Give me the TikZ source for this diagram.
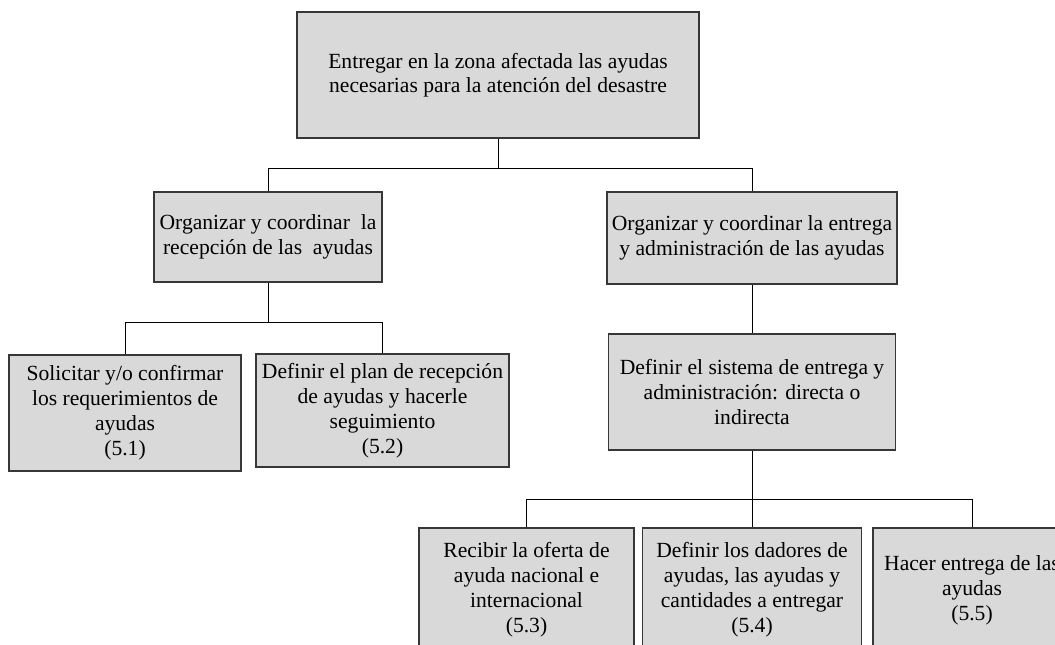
\documentclass[tikz,border=0pt]{standalone}
\usepackage{fontspec}
\setmainfont{Liberation Serif}
\definecolor{boxfill}{RGB}{217,217,217}
\definecolor{boxline}{RGB}{55,55,55}
\begin{document}
\begin{tikzpicture}[x=1pt,y=-1pt,
  box/.style={draw=boxline, fill=boxfill, line width=1.1pt, align=center,
    font=\fontsize{21.6}{25}\selectfont, inner sep=0pt},
  link/.style={draw=black, line width=1pt}]
\useasboundingbox (0,0) rectangle (1055,645);

% level 0
\node[box, minimum width=402pt, minimum height=126pt,
      font=\fontsize{21.6}{23.5}\selectfont] (top) at (498,75)
  {Entregar en la zona afectada las ayudas\\necesarias para la atención del desastre};

% level 1
\node[box, minimum width=228pt, minimum height=90pt] (A) at (268,237)
  {Organizar y coordinar \ la\\recepción de las \ ayudas};
\node[box, minimum width=290pt, minimum height=92pt] (B) at (752,238)
  {Organizar y coordinar la entrega\\y administración de las ayudas};

% level 2
\node[box, minimum width=232pt, minimum height=116pt] (s51) at (125,413)
  {Solicitar y/o confirmar\\los requerimientos de\\ayudas\\(5.1)};
\node[box, minimum width=253pt, minimum height=113pt] (s52) at (382.5,410.5)
  {Definir el plan de recepción\\de ayudas y hacerle\\seguimiento\\(5.2)};
\node[box, minimum width=287pt, minimum height=116pt] (C) at (752,392)
  {Definir el sistema de entrega y\\administración: directa o\\indirecta};

% level 3
\node[box, minimum width=215pt, minimum height=124pt] (s53) at (526.5,590)
  {Recibir la oferta de\\ayuda nacional e\\internacional\\(5.3)};
\node[box, minimum width=219pt, minimum height=124pt] (s54) at (752,590)
  {Definir los dadores de\\ayudas, las ayudas y\\cantidades a entregar\\(5.4)};
\node[box, minimum width=198pt, minimum height=124pt] (s55) at (972,590)
  {Hacer entrega de las\\ayudas\\(5.5)};

% connectors
\draw[link] (top.south) -- ++(0,30) -| (A.north);
\draw[link] (top.south) -- ++(0,30) -| (B.north);
\draw[link] (A.south) -- ++(0,40) -| (s51.north);
\draw[link] (A.south) -- ++(0,40) -| (s52.north);
\draw[link] (B.south) -- (C.north);
\draw[link] (C.south) -- ++(0,49) -| (s53.north);
\draw[link] (C.south) -- (s54.north);
\draw[link] (C.south) -- ++(0,49) -| (s55.north);
\end{tikzpicture}
\end{document}
